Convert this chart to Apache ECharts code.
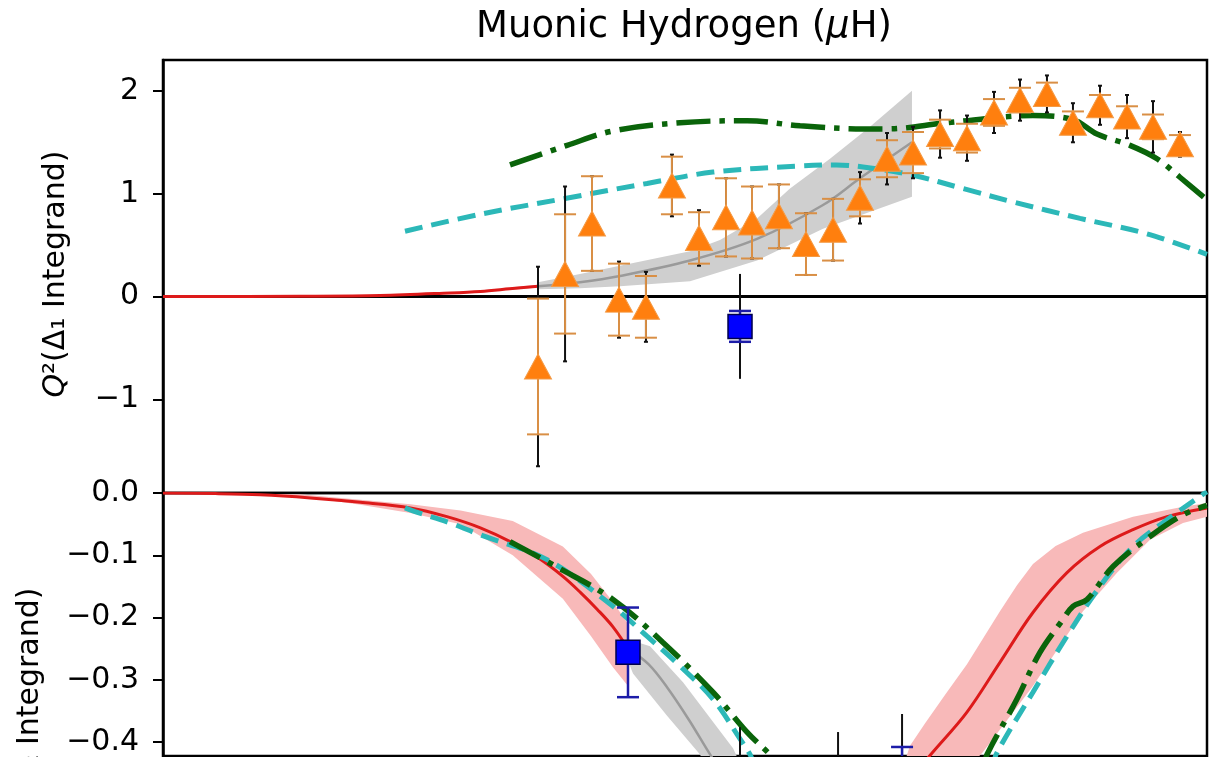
<!DOCTYPE html>
<html><head><meta charset="utf-8">
<script src="https://cdn.jsdelivr.net/npm/echarts@6/dist/echarts.min.js"></script>
<style>html,body{margin:0;padding:0;background:#fff}#c{width:1209px;height:757px}</style>
</head><body><div id="c"></div><script>
// ---------------- data (x in arbitrary log-Q^2 units 0..100) ----------------
// Top panel: Q^2 (Delta_1 integrand)
const xOrange = [35.92, 38.51, 41.09, 43.68, 46.26, 48.75, 51.34, 53.93, 56.42, 59.00, 61.59, 64.18, 66.76, 69.35, 71.84, 74.43, 77.01, 79.60, 82.09, 84.67, 87.16, 89.75, 92.34, 94.83, 97.41];
const yOrange = [-0.68, 0.22, 0.71, -0.03, -0.10, 1.08, 0.57, 0.77, 0.72, 0.78, 0.51, 0.65, 0.96, 1.34, 1.40, 1.58, 1.54, 1.79, 1.91, 1.97, 1.69, 1.86, 1.75, 1.65, 1.48];
const errOrangeStat = [0.66, 0.58, 0.46, 0.35, 0.30, 0.28, 0.25, 0.38, 0.35, 0.31, 0.30, 0.30, 0.18, 0.18, 0.20, 0.14, 0.14, 0.13, 0.12, 0.11, 0.11, 0.10, 0.10, 0.12, 0.09];
const errOrangeTot  = [0.97, 0.85, 0.46, 0.37, 0.34, 0.30, 0.27, 0.38, 0.35, 0.31, 0.30, 0.30, 0.25, 0.25, 0.25, 0.23, 0.22, 0.20, 0.20, 0.18, 0.19, 0.19, 0.21, 0.25, 0.12];

const xBlueTop = [55.27];
const yBlueTop = [-0.29];
const errBlueTopStat = [0.15];
const errBlueTopTot = [0.51];

const xRedTop = [0, 13.12, 20.8, 27.49, 30.4, 33.2, 35.92];
const yRedTop = [0, 0.003, 0.01, 0.035, 0.05, 0.075, 0.10];
const xRedTopBand = [0, 20.8, 27.49, 30.4, 33.2, 35.92];
const yRedTopBandHi = [0, 0.013, 0.042, 0.06, 0.087, 0.115];
const yRedTopBandLo = [0, 0.007, 0.028, 0.04, 0.063, 0.088];

const xGreyTop = [35.92, 39.94, 43.77, 50.48, 56.90, 63.22, 66.76, 71.74];
const yGreyTop = [0.10, 0.14, 0.20, 0.35, 0.56, 0.89, 1.15, 1.50];
const xGreyTopHi = [35.92, 39.94, 43.77, 50.48, 53.35, 56.90, 60.06, 63.89, 67.72, 71.74];
const yGreyTopHi = [0.14, 0.22, 0.30, 0.44, 0.55, 0.76, 1.05, 1.34, 1.65, 2.00];
const xGreyTopLo = [35.92, 39.94, 43.77, 50.48, 56.90, 63.22, 71.74];
const yGreyTopLo = [0.07, 0.08, 0.10, 0.15, 0.35, 0.66, 0.97];

const xGreenTop = [33.24, 38.70, 43.10, 49.52, 55.94, 61.02, 67.05, 69.35, 75.10, 83.33, 87.16, 89.46, 92.62, 95.21, 97.41, 100];
const yGreenTop = [1.28, 1.47, 1.61, 1.69, 1.71, 1.66, 1.63, 1.63, 1.69, 1.76, 1.72, 1.58, 1.47, 1.34, 1.16, 0.94];

const xCyanTop = [23.18, 30.36, 38.31, 46.36, 52.68, 61.02, 64.50, 67.05, 71.84, 76.63, 81.42, 87.84, 94.25, 100];
const yCyanTop = [0.635, 0.80, 0.95, 1.10, 1.21, 1.27, 1.28, 1.26, 1.18, 1.05, 0.92, 0.76, 0.61, 0.41];

// Bottom panel: Q^2 (Delta_2 integrand)
const xBlueBot = [44.54, 55.27, 64.66, 70.79];
const yBlueBot = [-0.256, -0.46, -0.47, -0.45];
const errBlueBotStat = [0.072, 0.03, 0.04, 0.042];
const errBlueBotTot = [0.072, 0.084, 0.086, 0.095];

const xRedBotL = [0, 5.0, 9.3, 14.1, 18.9, 23.7, 27.2, 30.4, 33.5, 36.0, 38.3, 40.0, 41.6, 43.1, 44.54];
const yRedBotL = [0, -0.001, -0.003, -0.008, -0.015, -0.024, -0.038, -0.056, -0.080, -0.105, -0.134, -0.160, -0.187, -0.215, -0.25];
const xRedBotLBand = [0, 13.1, 18.9, 23.7, 28.5, 33.5, 38.3, 41.0, 43.1, 44.54];
const yRedBotLBandHi = [0, -0.002, -0.011, -0.018, -0.028, -0.045, -0.086, -0.13, -0.175, -0.21];
const yRedBotLBandLo = [0, -0.005, -0.019, -0.032, -0.05, -0.10, -0.17, -0.23, -0.28, -0.31];

const xRedBotR = [71.0, 73.75, 77.01, 80.17, 83.33, 86.59, 89.75, 92.91, 96.17, 100];
const yRedBotR = [-0.47, -0.416, -0.352, -0.272, -0.192, -0.128, -0.086, -0.059, -0.038, -0.024];
const xRedBotRBandHi = [70.5, 71.55, 73.0, 75.0, 77.01, 78.5, 80.17, 81.8, 83.33, 85.5, 88.12, 92.91, 97.70, 100];
const yRedBotRBandHi = [-0.46, -0.406, -0.37, -0.322, -0.275, -0.235, -0.19, -0.148, -0.114, -0.085, -0.064, -0.038, -0.022, -0.016];
const xRedBotRBandLo = [70.5, 74.0, 78.54, 83.33, 88.12, 91.38, 94.54, 97.70, 100];
const yRedBotRBandLo = [-0.6, -0.5, -0.416, -0.31, -0.19, -0.128, -0.075, -0.048, -0.038];

const xGreyBot = [44.54, 46.5, 48.28, 50.4, 52.4, 54.0];
const yGreyBot = [-0.25, -0.275, -0.312, -0.365, -0.42, -0.46];
const xGreyBotHi = [44.54, 46.65, 49.81, 54.6, 56.0];
const yGreyBotHi = [-0.235, -0.246, -0.304, -0.41, -0.46];
const xGreyBotLo = [44.54, 45.02, 48.28, 51.44, 56.0];
const yGreyBotLo = [-0.27, -0.29, -0.358, -0.42, -0.6];

const xGreenBot = [33.24, 37.64, 43.10, 47.89, 52.68, 55.94, 58.14, 60.5, 78.0, 78.93, 81.80, 84.00, 86.21, 87.16, 88.51, 91.00, 94.54, 97.70, 100];
const yGreenBot = [-0.078, -0.118, -0.171, -0.24, -0.32, -0.384, -0.42, -0.46, -0.46, -0.42, -0.331, -0.256, -0.203, -0.182, -0.171, -0.118, -0.07, -0.035, -0.02];

const xCyanBot = [23.18, 24.14, 27.49, 30.36, 36.78, 43.10, 46.36, 49.52, 52.68, 55.27, 56.23, 57.5, 79.0, 79.8, 83.33, 86.59, 89.75, 92.91, 96.17, 99.8, 100];
const yCyanBot = [-0.024, -0.03, -0.048, -0.067, -0.107, -0.182, -0.23, -0.278, -0.331, -0.395, -0.42, -0.46, -0.46, -0.42, -0.32, -0.23, -0.15, -0.086, -0.043, 0.0, 0.002];

const topTicks = [-1, 0, 1, 2];
const botTicks = [0, -0.1, -0.2, -0.3, -0.4];

// ---------------- helpers ----------------
const FONT = 'DejaVu Sans';
function pairs(xs, ys) { return xs.map((x, i) => [x, ys[i]]); }
function fmt(v, d) { return (v < 0 ? '\u2212' : '') + Math.abs(v).toFixed(d); }

function band(gi, xHi, yHi, xLo, yLo, color, z) {
  return {
    type: 'custom', coordinateSystem: 'cartesian2d', xAxisIndex: gi, yAxisIndex: gi,
    clip: true, silent: true, z: z, data: [[xHi[0], yHi[0]]], encode: { x: 0, y: 1 },
    renderItem: function (params, api) {
      const pts = [];
      for (let i = 0; i < xHi.length; i++) pts.push(api.coord([xHi[i], yHi[i]]));
      for (let i = xLo.length - 1; i >= 0; i--) pts.push(api.coord([xLo[i], yLo[i]]));
      return { type: 'polygon', shape: { points: pts, smooth: 0 }, style: { fill: color } };
    }
  };
}
function errbars(gi, xs, ys, errs, color, lw, capW, z) {
  return {
    type: 'custom', coordinateSystem: 'cartesian2d', xAxisIndex: gi, yAxisIndex: gi,
    clip: true, silent: true, z: z,
    data: xs.map((x, i) => [x, ys[i] - errs[i], ys[i] + errs[i]]),
    encode: { x: 0, y: [1, 2] },
    renderItem: function (params, api) {
      const x = api.value(0);
      const lo = api.coord([x, api.value(1)]);
      const hi = api.coord([x, api.value(2)]);
      const st = { stroke: color, lineWidth: lw };
      const ch = [{ type: 'line', shape: { x1: lo[0], y1: lo[1], x2: hi[0], y2: hi[1] }, style: st }];
      if (capW > 0) {
        ch.push({ type: 'line', shape: { x1: lo[0] - capW / 2, y1: lo[1], x2: lo[0] + capW / 2, y2: lo[1] }, style: st });
        ch.push({ type: 'line', shape: { x1: hi[0] - capW / 2, y1: hi[1], x2: hi[0] + capW / 2, y2: hi[1] }, style: st });
      }
      return { type: 'group', children: ch };
    }
  };
}
function curve(gi, xs, ys, color, width, dash, z) {
  return {
    type: 'line', xAxisIndex: gi, yAxisIndex: gi, data: pairs(xs, ys),
    symbol: 'none', showSymbol: false, smooth: 0.35, clip: true, silent: true, z: z,
    lineStyle: { color: color, width: width, type: dash, cap: 'butt' }
  };
}

const RED = '#dd1a1a', PINK = '#f8b9b9', GREY = '#cfcfcf', GREYL = '#9a9a9a';
const GREEN = '#0a640a', CYAN = '#2cb8b8', ORANGE = '#ff7f0e', ORANGE_E = '#d98f45', BLUE = '#0000ff', BLUE_E = '#1c1ca8';

const yAxisBase = (gi, min, max, ticks, dec) => ({
  type: 'value', gridIndex: gi, min: min, max: max,
  axisLine: { show: true, lineStyle: { color: '#000', width: 2.5 } },
  splitLine: { show: false },
  axisTick: { show: true, inside: false, length: 10, customValues: ticks, lineStyle: { color: '#000', width: 2 } },
  axisLabel: { customValues: ticks, formatter: v => fmt(v, dec), fontSize: 30, color: '#000', fontFamily: FONT, margin: 24 }
});

const option = {
  animation: false,
  backgroundColor: '#fff',
  grid: [
    { left: 163, right: 2, top: 60, height: 433, show: true, borderColor: '#000', borderWidth: 2.5, backgroundColor: 'rgba(0,0,0,0)' },
    { left: 163, right: 2, top: 493, height: 264, show: true, borderColor: '#000', borderWidth: 2.5, backgroundColor: 'rgba(0,0,0,0)' }
  ],
  xAxis: [
    { type: 'value', gridIndex: 0, min: 0, max: 100, show: false },
    { type: 'value', gridIndex: 1, min: 0, max: 100, show: false }
  ],
  yAxis: [
    yAxisBase(0, -1.91, 2.30, topTicks, 0),
    yAxisBase(1, -0.4224, 0, botTicks, 1)
  ],
  graphic: [
    { type: 'text', x: 684, y: 27, z: 100, style: {
      text: '{a|Muonic Hydrogen (}{b|\u03bc}{a|H)}', align: 'center', verticalAlign: 'middle',
      rich: { a: { fontSize: 37, fontFamily: FONT, fill: '#000' }, b: { fontSize: 37, fontFamily: FONT, fontStyle: 'italic', fill: '#000' } } } },
    { type: 'text', x: 56, y: 274, rotation: Math.PI / 2, z: 100, style: {
      text: '{b|Q}{a|\u00b2(\u0394\u2081 Integrand)}', align: 'center', verticalAlign: 'middle',
      rich: { a: { fontSize: 30, fontFamily: FONT, fill: '#000' }, b: { fontSize: 30, fontFamily: FONT, fontStyle: 'italic', fill: '#000' } } } },
    { type: 'text', x: 30, y: 711, rotation: Math.PI / 2, z: 100, style: {
      text: '{b|Q}{a|\u00b2(\u0394\u2082 Integrand)}', align: 'center', verticalAlign: 'middle',
      rich: { a: { fontSize: 30, fontFamily: FONT, fill: '#000' }, b: { fontSize: 30, fontFamily: FONT, fontStyle: 'italic', fill: '#000' } } } }
  ],
  series: [
    // ---- top panel ----
    band(0, xRedTopBand, yRedTopBandHi, xRedTopBand, yRedTopBandLo, PINK, 1),
    band(0, xGreyTopHi, yGreyTopHi, xGreyTopLo, yGreyTopLo, GREY, 1),
    { type: 'line', xAxisIndex: 0, yAxisIndex: 0, data: [[0, 0], [100, 0]], symbol: 'none', silent: true, z: 2,
      lineStyle: { color: '#000', width: 3 } },
    curve(0, xRedTop, yRedTop, RED, 3, 'solid', 3),
    curve(0, xGreyTop, yGreyTop, GREYL, 2.5, 'solid', 3),
    curve(0, xCyanTop, yCyanTop, CYAN, 5, [18, 9], 4),
    curve(0, xGreenTop, yGreenTop, GREEN, 5.5, [34, 9, 5.5, 9], 4),
    errbars(0, xOrange, yOrange, errOrangeTot, '#111', 2, 4, 6),
    errbars(0, xOrange, yOrange, errOrangeStat, ORANGE_E, 2, 22, 7),
    errbars(0, xBlueTop, yBlueTop, errBlueTopTot, '#111', 2, 0, 6),
    errbars(0, xBlueTop, yBlueTop, errBlueTopStat, BLUE_E, 2.5, 22, 7),
    { type: 'scatter', xAxisIndex: 0, yAxisIndex: 0, data: pairs(xOrange, yOrange), symbol: 'triangle', symbolSize: [27, 25],
      silent: true, z: 10, itemStyle: { color: ORANGE, opacity: 1, borderColor: '#f49a45', borderWidth: 1 } },
    { type: 'scatter', xAxisIndex: 0, yAxisIndex: 0, data: pairs(xBlueTop, yBlueTop), symbol: 'rect', symbolSize: 24,
      silent: true, z: 10, itemStyle: { color: BLUE, opacity: 1, borderColor: '#00004a', borderWidth: 1.5 } },
    // ---- bottom panel ----
    band(1, xRedBotLBand, yRedBotLBandHi, xRedBotLBand, yRedBotLBandLo, PINK, 1),
    band(1, xRedBotRBandHi, yRedBotRBandHi, xRedBotRBandLo, yRedBotRBandLo, PINK, 1),
    band(1, xGreyBotHi, yGreyBotHi, xGreyBotLo, yGreyBotLo, GREY, 1),
    curve(1, xRedBotL, yRedBotL, RED, 3, 'solid', 3),
    curve(1, xRedBotR, yRedBotR, RED, 3, 'solid', 3),
    curve(1, xGreyBot, yGreyBot, GREYL, 2.5, 'solid', 3),
    curve(1, xCyanBot, yCyanBot, CYAN, 5, [18, 9], 4),
    curve(1, xGreenBot, yGreenBot, GREEN, 5.5, [34, 9, 5.5, 9], 4),
    errbars(1, xBlueBot, yBlueBot, errBlueBotTot, '#111', 2, 0, 6),
    errbars(1, xBlueBot, yBlueBot, errBlueBotStat, BLUE_E, 2.5, 22, 7),
    { type: 'scatter', xAxisIndex: 1, yAxisIndex: 1, data: pairs(xBlueBot, yBlueBot), symbol: 'rect', symbolSize: 24,
      silent: true, z: 10, clip: true, itemStyle: { color: BLUE, opacity: 1, borderColor: '#00004a', borderWidth: 1.5 } }
  ]
};
const chart = echarts.init(document.getElementById('c'), null, { renderer: 'canvas' });
chart.setOption(option);
</script></body></html>
